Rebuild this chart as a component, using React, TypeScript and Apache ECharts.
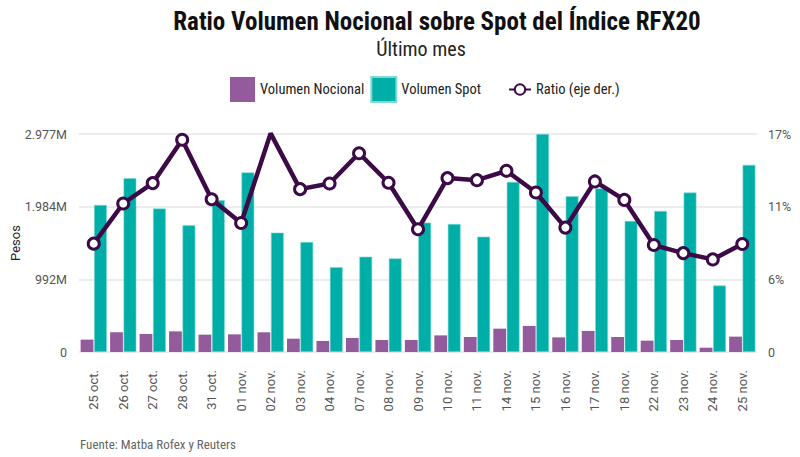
import React, { useEffect, useRef } from "react";
import * as echarts from "echarts";

const categories = [
  "25 oct.", "26 oct.", "27 oct.", "28 oct.", "31 oct.", "01 nov.", "02 nov.", "03 nov.",
  "04 nov.", "07 nov.", "08 nov.", "09 nov.", "10 nov.", "11 nov.", "14 nov.", "15 nov.",
  "16 nov.", "17 nov.", "18 nov.", "22 nov.", "23 nov.", "24 nov.", "25 nov.",
];

// millions of pesos
const volumenNocional = [
  169, 270, 247, 282, 237, 241, 269, 182, 151, 192, 164, 164, 227, 205, 319, 356,
  200, 288, 205, 155, 164, 59, 210,
];

const volumenSpot = [
  2008, 2374, 1959, 1730, 2073, 2452, 1630, 1502, 1159, 1301, 1278, 1767, 1748, 1575,
  2323, 2977, 2128, 2233, 1789, 1926, 2178, 908, 2556,
];

// percent
const ratio = [
  8.45, 11.58, 13.17, 16.55, 11.91, 10.06, 17.05, 12.7, 13.14, 15.5, 13.2, 9.57, 13.56,
  13.4, 14.13, 12.44, 9.7, 13.3, 11.86, 8.34, 7.71, 7.22, 8.42,
];

const leftTicks = ["0", "992M", "1.984M", "2.977M"];
const rightTicks = ["0", "6%", "11%", "17%"];

const LEFT_MAX = 2977;
const RIGHT_MAX = 17;

const COND = "'Roboto Condensed', 'Liberation Sans Narrow', 'Arial Narrow', Roboto, sans-serif";
const LINE_COLOR = "#3c0a46";

export default function App() {
  const ref = useRef<HTMLDivElement>(null);

  useEffect(() => {
    if (!ref.current) return;
    const chart = echarts.init(ref.current, undefined, { renderer: "svg" });
    const leftInt = LEFT_MAX / 3;
    const rightInt = RIGHT_MAX / 3;
    chart.setOption({
      animation: false,
      backgroundColor: "#ffffff",
      textStyle: { fontFamily: "Roboto, sans-serif" },
      title: [
        {
          text: "Ratio Volumen Nocional sobre Spot del Índice RFX20",
          left: 432,
          top: 4,
          textAlign: "center",
          textStyle: { fontFamily: COND, fontWeight: "bold", fontSize: 25, color: "#111" },
        },
        {
          text: "Último mes",
          left: 416,
          top: 34,
          textAlign: "center",
          textStyle: { fontFamily: COND, fontWeight: "normal", fontSize: 20, color: "#222" },
        },
        {
          text: "Fuente: Matba Rofex y Reuters",
          left: 75,
          top: 433,
          textStyle: { fontFamily: COND, fontWeight: "normal", fontSize: 13, color: "#666" },
        },
      ],
      legend: [
        {
          top: 71,
          left: 225,
          itemWidth: 25,
          itemHeight: 25,
          itemGap: 6,
          textStyle: { fontFamily: COND, fontSize: 14.5, color: "#222" },
          data: [
            { name: "Volumen Nocional", icon: "rect" },
            { name: "Volumen Spot", icon: "rect" },
          ],
        },
        {
          top: 77,
          left: 503,
          itemWidth: 22,
          itemHeight: 13,
          textStyle: { fontFamily: COND, fontSize: 14.5, color: "#222" },
          data: [{ name: "Ratio (eje der.)" }],
        },
      ],
      grid: { left: 79, right: 43, top: 134, bottom: 105, outerBoundsMode: "none" },
      xAxis: {
        type: "category",
        data: categories,
        axisLine: { show: false },
        axisTick: { show: false },
        axisLabel: { rotate: 90, margin: 18, fontSize: 13, color: "#555", interval: 0 },
      },
      yAxis: [
        {
          type: "value",
          min: 0,
          max: LEFT_MAX,
          interval: leftInt,
          name: "Pesos",
          nameLocation: "middle",
          nameGap: 57,
          nameMoveOverlap: false,
          nameTextStyle: { fontSize: 13, color: "#222" },
          axisLine: { show: false },
          axisTick: { show: false },
          axisLabel: {
            fontSize: 12.5,
            color: "#555",
            margin: 12,
            formatter: (v: number) => leftTicks[Math.round(v / leftInt)] ?? "",
          },
          splitLine: { lineStyle: { color: "#e6e6e6", width: 1.5 } },
        },
        {
          type: "value",
          min: 0,
          max: RIGHT_MAX,
          interval: rightInt,
          axisLine: { show: false },
          axisTick: { show: false },
          axisLabel: {
            fontSize: 12.5,
            color: "#555",
            margin: 11,
            formatter: (v: number) => rightTicks[Math.round(v / rightInt)] ?? "",
          },
          splitLine: { show: false },
        },
      ],
      series: [
        {
          name: "Volumen Nocional",
          type: "bar",
          data: volumenNocional,
          itemStyle: { color: "#945b9c" },
          barGap: "5%",
          barCategoryGap: "11%",
        },
        {
          name: "Volumen Spot",
          type: "bar",
          data: volumenSpot,
          itemStyle: { color: "#00aea8", borderColor: "#7fd8d4", borderWidth: 0.6 },
        },
        {
          name: "Ratio (eje der.)",
          type: "line",
          yAxisIndex: 1,
          data: ratio,
          z: 5,
          symbol: "circle",
          symbolSize: 11,
          lineStyle: { color: LINE_COLOR, width: 4.5 },
          itemStyle: { color: "#ffffff", borderColor: LINE_COLOR, borderWidth: 3 },
        },
      ],
    });
    return () => chart.dispose();
  }, []);

  return (
    <div
      ref={ref}
      style={{ position: "fixed", left: 0, top: 0, width: 800, height: 457 }}
    />
  );
}
